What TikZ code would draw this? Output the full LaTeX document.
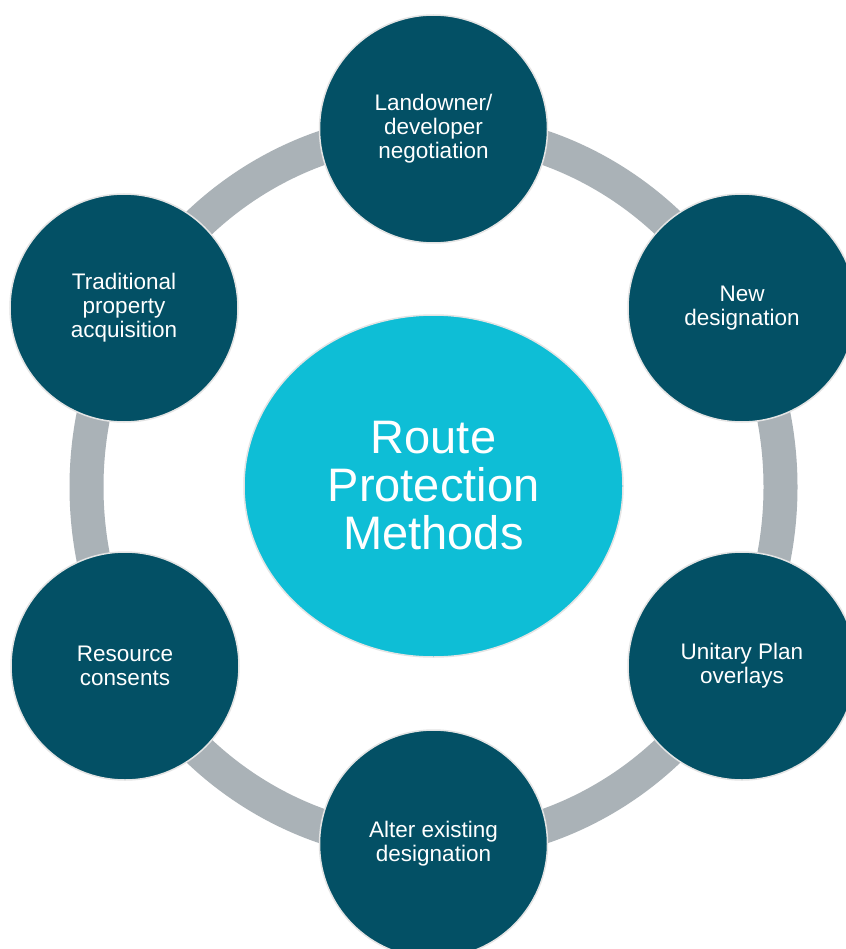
\documentclass[tikz,border=0pt]{standalone}
\usepackage{fontspec}
\setmainfont{Liberation Sans}
\usetikzlibrary{shapes.geometric}
\definecolor{satfill}{RGB}{3,80,101}
\definecolor{hubfill}{RGB}{14,190,214}
\definecolor{ringgray}{RGB}{170,178,183}
\definecolor{rimgray}{RGB}{228,228,228}
\begin{document}
\begin{tikzpicture}[x=1pt,y=-1pt]
\tikzset{
 sat/.style={circle, fill=satfill, draw=rimgray, line width=1.5pt, minimum size=228pt, inner sep=0pt, text=white, align=center, font=\fontsize{22.5}{24}\selectfont},
 hub/.style={ellipse, fill=hubfill, draw=rimgray, line width=1.5pt, minimum width=379pt, minimum height=342pt, inner sep=0pt, text=white, align=center, font=\fontsize{47}{48}\selectfont},
 ringline/.style={draw=ringgray, line width=34pt}
}
\fill[white] (0,0) rectangle (845,949);
\useasboundingbox (0,0) rectangle (845,949);
\coordinate (ctr) at (433.5,487);
\draw[ringline] (ctr) ellipse [x radius=347pt, y radius=358pt];
\node[hub] (hub) at (433.5,486) {Route\\Protection\\Methods};
\node[sat] (top) at (433.5,129) {Landowner/\\developer\\negotiation};
\node[sat] (ur) at (742,308) {New\\designation};
\node[sat] (lr) at (742,666) {Unitary Plan\\overlays};
\node[sat] (bot) at (433.5,844) {Alter existing\\designation};
\node[sat] (ll) at (125,666) {Resource\\consents};
\node[sat] (ul) at (124,308) {Traditional\\property\\acquisition};
\end{tikzpicture}
\end{document}
